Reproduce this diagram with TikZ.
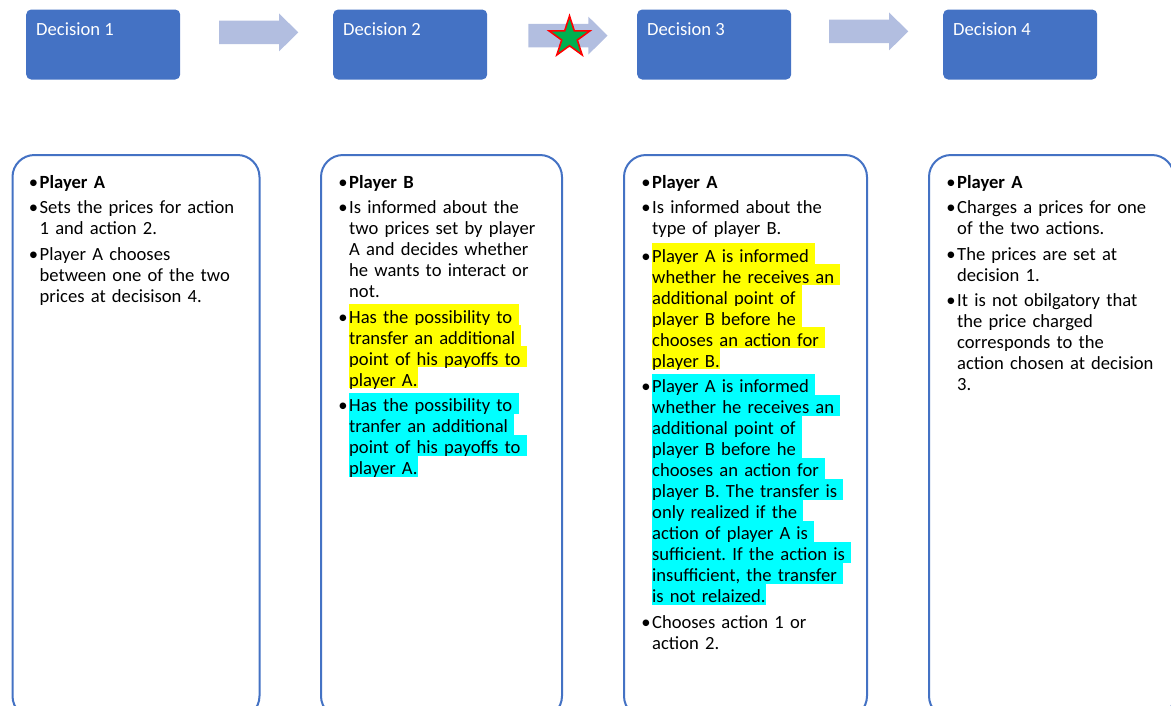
\documentclass[tikz,border=0pt]{standalone}
\usepackage{fontspec}
\setmainfont{Carlito}
\usetikzlibrary{shapes.geometric}

\definecolor{hdblue}{RGB}{68,114,196}
\definecolor{arrblue}{RGB}{178,190,224}
\definecolor{stargreen}{RGB}{0,176,80}
\definecolor{hlyellow}{RGB}{255,255,0}
\definecolor{hlcyan}{RGB}{0,255,255}

\newcommand\hlband[2]{{\setlength{\fboxsep}{0pt}\colorbox{#1}{\rule[-2pt]{0pt}{21pt}\smash{#2}}}}
\newcommand\hly[1]{\hlband{hlyellow}{#1}}
\newcommand\hlc[1]{\hlband{hlcyan}{#1}}
\newcommand\bul{\leavevmode\llap{•\kern1.5pt}}
\newcommand\firstline{\rule{0pt}{19pt}}
\frenchspacing

\tikzset{
  decbox/.style={rectangle, rounded corners=5pt, fill=hdblue, minimum width=154, minimum height=70, anchor=north west, inner sep=0pt},
  dectext/.style={anchor=base west, text=white, inner sep=0pt, font=\fontsize{18.6}{21}\selectfont},
  playerbox/.style={rectangle, draw=hdblue, line width=2pt, rounded corners=22pt, fill=white, minimum height=563, anchor=north west, inner sep=0pt},
  playertext/.style={anchor=north west, text width=212pt, inner sep=0pt, align=left, font=\fontsize{18.6}{21}\selectfont},
}

\begin{document}
\begin{tikzpicture}[x=1pt, y=-1pt]
    %%Background
    \useasboundingbox (0,0) rectangle (1171,705);
    \clip (0,0) rectangle (1171,705);
    %%Decisions
    \foreach \i/\x in {1/26,2/333,3/637,4/943}{
        \node[decbox] (dec\i) at (\x,9.3) {};
        \node[dectext] (dec\i text) at (\x+10,35) {Decision \i};
    }
    %%Block arrows
    \foreach \x/\y in {219/32.4,528.3/35.6,829/31.4}
        \fill[arrblue] (\x,\y-11.75) -- (\x+60,\y-11.75) -- (\x+60,\y-19)
            -- (\x+79.3,\y) -- (\x+60,\y+19) -- (\x+60,\y+11.75) -- (\x,\y+11.75) -- cycle;
    \node[star, star points=5, star point ratio=2.618, minimum size=43pt, inner sep=0pt,
          fill=stargreen, draw=red, line width=1.6pt] (star) at (569.5,37.5) {};

    %%Players
    \foreach \i/\x/\w in {1/11.5/247,2/320/241,3/623/243,4/928/245}
        \node[playerbox, minimum width=\w] (box\i) at (\x,154) {};

    \node[playertext] (txt1) at (39.5,169) {\bul\firstline\textbf{Player A}\\[4.5pt]
        \bul Sets the prices for action\\
        1 and action 2.\\[4.5pt]
        \bul Player A chooses\\
        between one of the two\\
        prices at decisison 4.};

    \node[playertext] (txt2) at (349,169) {\bul\firstline\textbf{Player B}\\[4.5pt]
        \bul Is informed about the\\
        two prices set by player\\
        A and decides whether\\
        he wants to interact or\\
        not.\\[4.5pt]
        \bul\hly{Has the possibility to }\\
        \hly{transfer an additional }\\
        \hly{point of his payoffs to }\\
        \hly{player A.}\\[4.5pt]
        \bul\hlc{Has the possibility to }\\
        \hlc{tranfer an additional }\\
        \hlc{point of his payoffs to }\\
        \hlc{player A.}};

    \node[playertext] (txt3) at (652,169) {\bul\firstline\textbf{Player A}\\[4.5pt]
        \bul Is informed about the\\
        type of player B.\\[4.5pt]
        \bul\hly{Player A is informed }\\
        \hly{whether he receives an }\\
        \hly{additional point of }\\
        \hly{player B before he }\\
        \hly{chooses an action for }\\
        \hly{player B.}\\[4.5pt]
        \bul\hlc{Player A is informed }\\
        \hlc{whether he receives an }\\
        \hlc{additional point of }\\
        \hlc{player B before he }\\
        \hlc{chooses an action for }\\
        \hlc{player B. The transfer is }\\
        \hlc{only realized if the }\\
        \hlc{action of player A is }\\
        \hlc{sufficient. If the action is }\\
        \hlc{insufficient, the transfer }\\
        \hlc{is not relaized.}\\[4.5pt]
        \bul Chooses action 1 or\\
        action 2.};

    \node[playertext] (txt4) at (957,169) {\bul\firstline\textbf{Player A}\\[4.5pt]
        \bul Charges a prices for one\\
        of the two actions.\\[4.5pt]
        \bul The prices are set at\\
        decision 1.\\[4.5pt]
        \bul It is not obilgatory that\\
        the price charged\\
        corresponds to the\\
        action chosen at decision\\
        3.};
\end{tikzpicture}
\end{document}
